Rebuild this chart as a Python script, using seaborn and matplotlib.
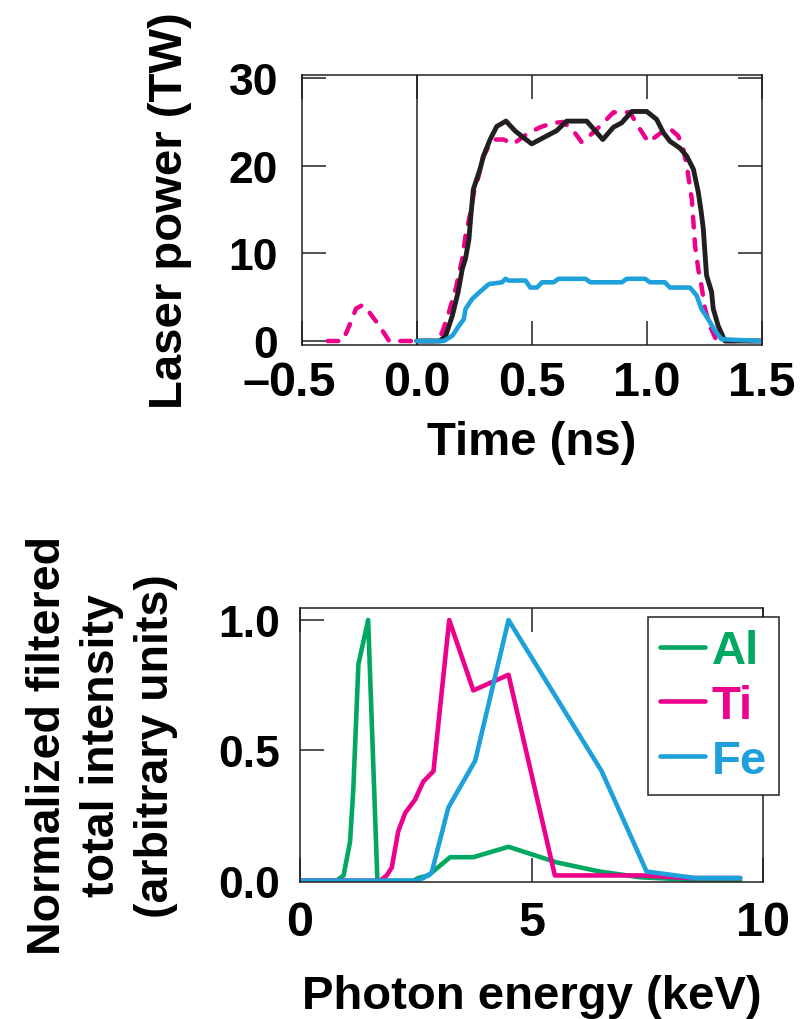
import matplotlib
matplotlib.use("Agg")
import matplotlib.pyplot as plt
import seaborn as sns

# Top panel: laser power vs time (ns), values in TW
black_t = [0.0, 0.10, 0.126, 0.155, 0.18, 0.198, 0.212, 0.227, 0.234, 0.246, 0.275,
           0.29, 0.319, 0.348, 0.388, 0.427, 0.465, 0.50, 0.55, 0.608, 0.652, 0.739,
           0.809, 0.855, 0.891, 0.935, 1.0, 1.043, 1.072, 1.101, 1.145, 1.174, 1.203,
           1.224, 1.237, 1.246, 1.253, 1.26, 1.282, 1.289, 1.311, 1.34, 1.5]
black_p = [0.0, 0.0, 0.6, 2.9, 5.6, 8.2, 9.4, 11.6, 13.9, 17.3, 19.6,
           21.1, 23.0, 24.5, 25.1, 24.0, 23.2, 22.5, 23.2, 24.0, 25.1, 25.1,
           23.0, 24.4, 24.9, 26.2, 26.2, 25.3, 23.8, 22.8, 22.0, 21.1, 19.6,
           17.0, 14.7, 12.8, 10.1, 7.5, 5.6, 3.7, 1.7, 0.0, 0.0]

pink_t = [-0.387, -0.322, -0.293, -0.264, -0.236, -0.207, -0.163, -0.12, 0.0, 0.09,
          0.111, 0.14, 0.169, 0.198, 0.212, 0.234, 0.249, 0.27, 0.285, 0.314, 0.343,
          0.377, 0.42, 0.478, 0.536, 0.594, 0.637, 0.681, 0.717, 0.768, 0.811, 0.855,
          0.927, 0.963, 1.007, 1.043, 1.094, 1.137, 1.159, 1.174, 1.196, 1.21, 1.224,
          1.238, 1.253, 1.275, 1.304, 1.5]
pink_p = [0.0, 0.0, 1.75, 3.7, 4.1, 3.3, 1.75, 0.0, 0.0, 0.0,
          1.0, 3.3, 5.9, 9.4, 12.0, 14.7, 17.0, 18.9, 20.8, 22.3, 23.0,
          23.0, 22.5, 23.6, 24.4, 24.9, 25.0, 24.0, 22.7, 23.8, 24.9, 26.1,
          26.1, 24.5, 22.7, 23.4, 24.4, 23.4, 21.9, 20.0, 16.2, 10.9, 8.2,
          6.3, 3.7, 1.7, 0.0, 0.0]

blue_t = [0.0, 0.118, 0.155, 0.184, 0.205, 0.212, 0.241, 0.27, 0.314, 0.371, 0.386,
          0.40, 0.473, 0.494, 0.523, 0.545, 0.595, 0.617, 0.733, 0.755, 0.892, 0.913,
          0.993, 1.014, 1.079, 1.101, 1.188, 1.217, 1.238, 1.267, 1.296, 1.325, 1.5]
blue_p = [0.0, 0.0, 0.6, 1.75, 2.5, 3.65, 4.8, 5.5, 6.5, 6.7, 7.1,
          6.9, 6.9, 6.1, 6.1, 6.7, 6.7, 7.1, 7.1, 6.7, 6.7, 7.1,
          7.1, 6.7, 6.7, 6.1, 6.1, 5.2, 3.65, 2.5, 1.2, 0.2, 0.0]

time_ticks = [-0.5, 0.0, 0.5, 1.0, 1.5]
time_labels = ["0.5", "0.0", "0.5", "1.0", "1.5"]
power_ticks = [0, 10, 20, 30]

# Bottom panel: normalized filtered intensity vs photon energy (keV)
al_e = [0, 0.79, 0.94, 1.08, 1.15, 1.26, 1.47, 1.67, 2.45, 2.55, 2.77, 3.24, 3.74,
        4.5, 5.54, 6.47, 7.34, 8.4, 9.5]
al_i = [0, 0, 0.02, 0.15, 0.35, 0.83, 1.0, 0, 0, 0.01, 0.02, 0.09, 0.09,
        0.13, 0.07, 0.035, 0.013, 0.004, 0]
ti_e = [0, 1.73, 1.87, 1.98, 2.12, 2.27, 2.48, 2.66, 2.88, 3.22, 3.74, 4.5, 5.5,
        7.41, 8.4, 9.5]
ti_i = [0, 0, 0.02, 0.05, 0.19, 0.26, 0.31, 0.38, 0.42, 1.0, 0.73, 0.79, 0.02,
        0.02, 0.01, 0.01]
fe_e = [0, 2.52, 2.66, 2.84, 3.2, 3.78, 4.5, 5.54, 6.51, 7.48, 8.53, 9.5]
fe_i = [0, 0, 0.01, 0.03, 0.28, 0.46, 1.0, 0.70, 0.42, 0.035, 0.01, 0.01]

energy_ticks = [0, 5, 10]
intensity_ticks = [0.0, 0.5, 1.0]

BLACK = "#231f20"
PINK = "#ec008c"
BLUE = "#1ea0db"
GREEN = "#00a862"

sns.set_theme(style="ticks")
plt.rcParams["font.family"] = ["Liberation Sans", "DejaVu Sans"]
plt.rcParams["font.weight"] = "bold"
plt.rcParams["axes.labelweight"] = "bold"
plt.rcParams["axes.edgecolor"] = BLACK
plt.rcParams["axes.linewidth"] = 1.1
for key in ["text.color", "axes.labelcolor", "xtick.color", "ytick.color"]:
    plt.rcParams[key] = "black"

fig = plt.figure(figsize=(8.02, 10.20), dpi=100)

# ---- top panel ----
ax1 = fig.add_axes([0.3762, 0.6611, 0.5736, 0.2647])
sns.lineplot(x=pink_t, y=pink_p, ax=ax1, color=PINK, lw=3.2, sort=False, estimator=None)
pink_line = ax1.lines[-1]
pink_line.set_dashes([2.4, 2.7])
pink_line.set_dash_capstyle("round")
sns.lineplot(x=black_t, y=black_p, ax=ax1, color=BLACK, lw=3.5, sort=False, estimator=None)
sns.lineplot(x=blue_t, y=blue_p, ax=ax1, color=BLUE, lw=3.3, sort=False, estimator=None)
ax1.axvline(0, color=BLACK, lw=1.1, zorder=1)

ax1.set_xlim(-0.5, 1.5)
ax1.set_ylim(-0.42, 30.4)
ax1.set_xticks(time_ticks)
ax1.set_xticklabels(time_labels)
ax1.set_yticks(power_ticks)
ax1.tick_params(axis="both", direction="in", length=17, width=1.1, color=BLACK,
                top=True, right=True, labeltop=False, labelright=False)
ax1.tick_params(axis="x", labelsize=35, pad=11)
ax1.tick_params(axis="y", labelsize=32, pad=17)
# the minus sign of the first tick label hangs to the left of the number
ax1.annotate("\u2013", xy=(-0.5, 0), xycoords=("data", "axes fraction"),
             xytext=(-22.8, -11), textcoords="offset points",
             ha="right", va="top", fontsize=35, fontweight="bold")
ax1.set_xlabel("Time (ns)", fontsize=34)
ax1.set_ylabel("Laser power (TW)", fontsize=34)
ax1.xaxis.set_label_coords(0.5, -0.279)
ax1.yaxis.set_label_coords(-0.239, 0.5)

# ---- bottom panel ----
ax2 = fig.add_axes([0.3741, 0.1346, 0.5777, 0.2683])
sns.lineplot(x=al_e, y=al_i, ax=ax2, color=GREEN, lw=3.3, sort=False, estimator=None, label="Al")
sns.lineplot(x=ti_e, y=ti_i, ax=ax2, color=PINK, lw=3.3, sort=False, estimator=None, label="Ti")
sns.lineplot(x=fe_e, y=fe_i, ax=ax2, color=BLUE, lw=3.3, sort=False, estimator=None, label="Fe")

ax2.set_xlim(0, 10)
ax2.set_ylim(-0.004, 1.046)
ax2.set_xticks(energy_ticks)
ax2.set_yticks(intensity_ticks)
ax2.set_yticklabels(["0.0", "0.5", "1.0"])
ax2.tick_params(axis="both", direction="in", length=17, width=1.1, color=BLACK,
                top=True, labeltop=False)
ax2.tick_params(axis="x", labelsize=35, pad=13.5)
ax2.tick_params(axis="y", labelsize=32, pad=14.5)
ax2.set_xlabel("Photon energy (keV)", fontsize=34)
ax2.set_ylabel("Normalized filtered\ntotal intensity\n(arbitrary units)", fontsize=33.5,
               linespacing=1.3)
ax2.xaxis.set_label_coords(0.5, -0.337)
ax2.yaxis.set_label_coords(-0.263, 0.5)

leg = ax2.legend(loc="upper left", bbox_to_anchor=(648.3 / 802, 1 - 618.3 / 1020),
                 bbox_transform=fig.transFigure, borderaxespad=0,
                 handlelength=0.95, handletextpad=0.14, borderpad=0.25,
                 labelspacing=0.23, fancybox=False, framealpha=1, edgecolor=BLACK,
                 prop={"weight": "bold", "size": 34})
leg.get_frame().set_linewidth(1.1)
for text, c in zip(leg.get_texts(), [GREEN, PINK, BLUE]):
    text.set_color(c)

plt.savefig("out.png", dpi=100)
